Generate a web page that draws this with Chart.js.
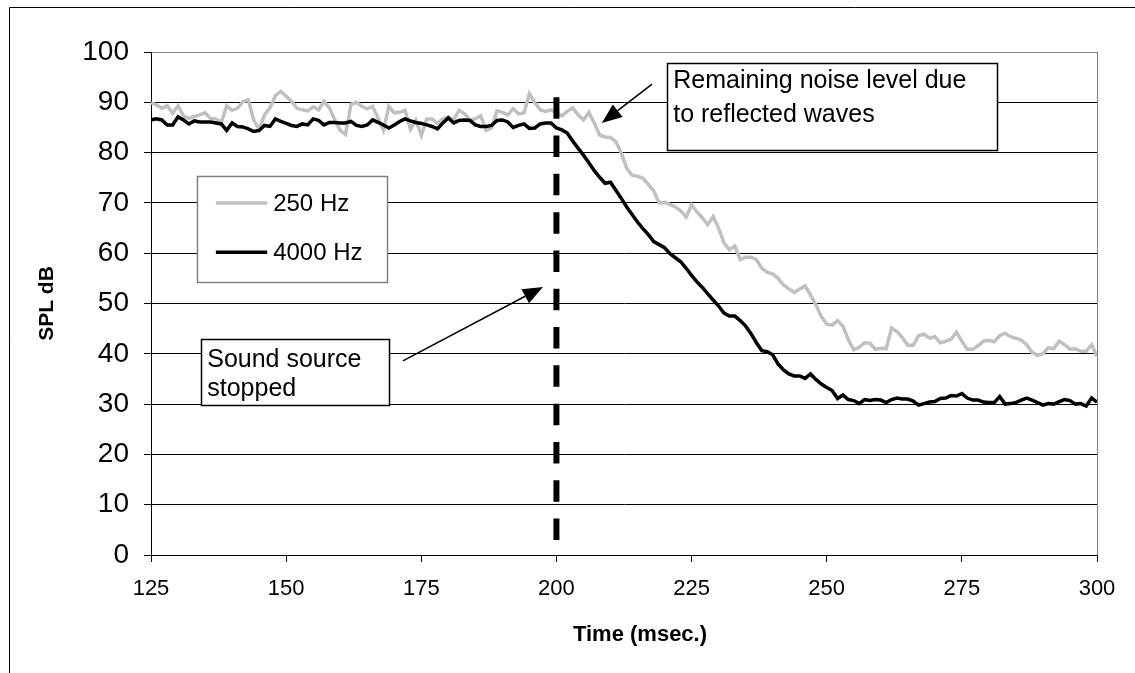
<!DOCTYPE html>
<html>
<head>
<meta charset="utf-8">
<script src="https://cdn.jsdelivr.net/npm/chart.js@4/dist/chart.umd.min.js"></script>
<style>
  html, body { margin: 0; padding: 0; background: #fff; }
  #wrap { width: 1135px; height: 673px; }
</style>
</head>
<body>
<div id="wrap"><canvas id="chart" width="1135" height="673"></canvas></div>
<script>
// samples every 1 ms, first one at 125 ms
const startMs = 125;

// 250 Hz, dB
const spl250 = [
  89.9, 89.5, 88.8, 89.3, 87.8, 89.3, 87.3, 86.8, 87.2, 87.5,
  87.9, 86.8, 86.7, 86.0, 89.3, 88.4, 88.8, 90.1, 90.5, 86.5,
  84.6, 87.5, 88.9, 91.3, 92.2, 91.2, 90.2, 88.8, 88.5, 88.3,
  89.1, 88.5, 90.2, 88.9, 86.5, 84.4, 83.6, 89.6, 90.0, 89.2,
  88.7, 89.2, 86.9, 84.4, 89.2, 87.9, 88.0, 88.4, 84.6, 86.5,
  83.4, 86.7, 86.7, 85.8, 86.7, 87.1, 86.5, 88.4, 87.7, 86.5,
  86.7, 87.3, 84.4, 84.9, 88.3, 88.0, 87.5, 88.7, 87.7, 87.9,
  91.7, 89.9, 88.5, 88.2, 88.5, 87.9, 87.3, 88.2, 88.9, 87.5,
  86.5, 88.0, 85.9, 83.5, 83.1, 83.0, 82.2, 79.9, 76.9, 75.5,
  75.3, 74.9, 73.7, 72.4, 70.0, 70.1, 69.7, 69.2, 68.4, 67.2,
  69.6, 68.2, 67.0, 65.7, 67.3, 65.0, 62.0, 60.7, 61.4, 58.7,
  59.2, 59.2, 58.7, 57.0, 56.2, 55.9, 55.0, 53.7, 52.9, 52.2,
  52.9, 53.5, 51.7, 49.7, 47.4, 45.9, 45.7, 46.6, 45.5, 42.8,
  40.8, 41.3, 42.2, 42.1, 40.9, 41.1, 41.0, 45.1, 44.4, 43.2,
  41.7, 41.7, 43.6, 43.9, 43.1, 43.4, 42.2, 42.5, 42.9, 44.3,
  42.5, 40.9, 40.9, 41.6, 42.5, 42.7, 42.4, 43.6, 44.1, 43.4,
  43.1, 42.7, 41.8, 40.3, 39.7, 40.0, 41.2, 41.0, 42.5, 41.8,
  40.9, 41.0, 40.5, 40.5, 41.8, 39.5
];

// 4000 Hz, dB
const spl4000 = [
  86.5, 86.7, 86.5, 85.5, 85.5, 87.1, 86.5, 85.7, 86.3, 86.1,
  86.1, 86.1, 85.9, 85.7, 84.4, 85.9, 85.2, 85.1, 84.7, 84.2,
  84.4, 85.4, 85.2, 86.7, 86.2, 85.8, 85.4, 85.2, 85.7, 85.5,
  86.7, 86.4, 85.5, 86.0, 86.0, 85.9, 85.9, 86.2, 85.4, 85.2,
  85.5, 86.5, 86.0, 85.5, 84.9, 85.5, 86.2, 86.7, 86.3, 86.0,
  85.8, 85.5, 85.2, 84.7, 85.9, 86.9, 85.9, 86.4, 86.5, 86.4,
  85.5, 85.2, 85.2, 85.4, 86.4, 86.5, 86.1, 85.0, 85.4, 85.7,
  84.8, 84.9, 85.7, 85.9, 85.9, 84.9, 84.5, 83.9, 82.3, 80.9,
  79.5, 78.0, 76.4, 75.1, 73.9, 74.1, 72.5, 70.9, 69.2, 67.7,
  66.2, 64.9, 63.7, 62.3, 61.7, 61.1, 59.9, 59.1, 58.3, 57.0,
  55.6, 54.3, 53.2, 51.9, 50.7, 49.5, 48.1, 47.5, 47.5, 46.6,
  45.5, 44.0, 42.2, 40.6, 40.4, 39.8, 38.0, 36.8, 36.0, 35.6,
  35.6, 35.1, 36.0, 34.9, 34.0, 33.3, 32.7, 31.1, 31.8, 30.9,
  30.7, 30.1, 30.9, 30.7, 30.9, 30.8, 30.3, 30.9, 31.2, 31.0,
  31.0, 30.6, 29.8, 30.1, 30.4, 30.5, 31.1, 31.2, 31.7, 31.6,
  32.1, 31.2, 30.8, 30.8, 30.4, 30.3, 30.3, 31.5, 30.0, 30.1,
  30.3, 30.8, 31.2, 30.8, 30.3, 29.8, 30.1, 30.0, 30.5, 30.9,
  30.7, 30.0, 30.1, 29.6, 31.2, 30.4
];

const xTicks = [125, 150, 175, 200, 225, 250, 275, 300];
const yTicks = [0, 10, 20, 30, 40, 50, 60, 70, 80, 90, 100];
const seriesNames = ['250 Hz', '4000 Hz'];
const xTitle = 'Time (msec.)';

// moment the source was switched off, and how high the marker goes
const stopMs = 200;
const stopTop = 91;

const FONT = 'Arial, "Liberation Sans", sans-serif';

function toPoints(arr) {
  return arr.map((v, i) => ({ x: startMs + i, y: v }));
}

// text boxes / arrows, placed in data units
const noteBoxes = [
  { x0: 220.45, x1: 281.5, y0: 97.8, y1: 80.5, tx: 221.6,
    lines: [['Remaining noise level due', 92.8], ['to reflected waves', 86.1]] },
  { x0: 134.2, x1: 169.0, y0: 42.9, y1: 29.8, tx: 135.4,
    lines: [['Sound source', 37.4], ['stopped', 31.6]] }
];
const noteArrows = [
  { from: [217.7, 93.6], to: [208.4, 85.9] },
  { from: [171.6, 38.6], to: [197.5, 53.3] }
];
const legendBox = { x0: 133.5, x1: 168.7, y0: 75.3, y1: 54.3, lx0: 137.0, lx1: 146.5, tx: 147.6, rows: [70.0, 60.2] };

const extras = {
  id: 'extras',
  afterDraw(chart) {
    const { ctx, chartArea, scales: { x, y } } = chart;
    const px = v => x.getPixelForValue(v);
    const py = v => y.getPixelForValue(v);
    ctx.save();

    // plot area right border (grey)
    ctx.strokeStyle = '#808080';
    ctx.lineWidth = 1;
    ctx.beginPath();
    ctx.moveTo(Math.round(chartArea.right) + 0.5, chartArea.top);
    ctx.lineTo(Math.round(chartArea.right) + 0.5, chartArea.bottom);
    ctx.stroke();

    // outer frame
    ctx.strokeStyle = '#000';
    ctx.beginPath();
    ctx.moveTo(9.5, 700);
    ctx.lineTo(9.5, 7.5);
    ctx.lineTo(1200, 7.5);
    ctx.stroke();

    // x axis title, sits a bit right of the plot centre like the original
    ctx.fillStyle = '#000';
    ctx.font = 'bold 22px ' + FONT;
    ctx.textAlign = 'center';
    ctx.textBaseline = 'middle';
    ctx.fillText(xTitle, (chartArea.left + chartArea.right) / 2 + 16, 635);

    // arrows
    noteArrows.forEach(a => {
      const x0 = px(a.from[0]), y0 = py(a.from[1]);
      const x1 = px(a.to[0]), y1 = py(a.to[1]);
      const ang = Math.atan2(y1 - y0, x1 - x0);
      const hl = 20, hw = 8;
      const bx = x1 - hl * Math.cos(ang), by = y1 - hl * Math.sin(ang);
      ctx.strokeStyle = '#000';
      ctx.lineWidth = 1.5;
      ctx.beginPath();
      ctx.moveTo(x0, y0);
      ctx.lineTo(bx, by);
      ctx.stroke();
      ctx.fillStyle = '#000';
      ctx.beginPath();
      ctx.moveTo(x1, y1);
      ctx.lineTo(bx + hw * Math.sin(ang), by - hw * Math.cos(ang));
      ctx.lineTo(bx - hw * Math.sin(ang), by + hw * Math.cos(ang));
      ctx.closePath();
      ctx.fill();
    });

    // text boxes
    ctx.font = '25px ' + FONT;
    ctx.textBaseline = 'alphabetic';
    ctx.textAlign = 'left';
    noteBoxes.forEach(b => {
      const l = Math.round(px(b.x0)) + 0.5, t = Math.round(py(b.y0)) + 0.5;
      const w = Math.round(px(b.x1) - px(b.x0)), h = Math.round(py(b.y1) - py(b.y0));
      ctx.fillStyle = '#fff';
      ctx.fillRect(l, t, w, h);
      ctx.strokeStyle = '#000';
      ctx.lineWidth = 1.5;
      ctx.strokeRect(l, t, w, h);
      ctx.fillStyle = '#000';
      b.lines.forEach(([txt, yy]) => ctx.fillText(txt, px(b.tx), py(yy)));
    });

    // legend box
    const L = legendBox;
    const ll = Math.round(px(L.x0)) + 0.5, lt = Math.round(py(L.y0)) + 0.5;
    const lw = Math.round(px(L.x1) - px(L.x0)), lh = Math.round(py(L.y1) - py(L.y0));
    ctx.fillStyle = '#fff';
    ctx.fillRect(ll, lt, lw, lh);
    ctx.strokeStyle = '#808080';
    ctx.lineWidth = 1.5;
    ctx.strokeRect(ll, lt, lw, lh);
    ctx.textBaseline = 'middle';
    ctx.font = '24px ' + FONT;
    chart.data.datasets.slice(0, 2).forEach((ds, i) => {
      const yy = py(L.rows[i]);
      ctx.strokeStyle = ds.borderColor;
      ctx.lineWidth = ds.borderWidth;
      ctx.beginPath();
      ctx.moveTo(px(L.lx0), yy);
      ctx.lineTo(px(L.lx1), yy);
      ctx.stroke();
      ctx.fillStyle = '#000';
      ctx.fillText(ds.label, px(L.tx), yy + 1);
    });

    ctx.restore();
  }
};

new Chart(document.getElementById('chart'), {
  type: 'line',
  data: {
    datasets: [
      {
        label: seriesNames[0],
        data: toPoints(spl250),
        borderColor: '#c0c0c0',
        borderWidth: 3.5,
        pointRadius: 0,
        tension: 0,
        order: 2
      },
      {
        label: seriesNames[1],
        data: toPoints(spl4000),
        borderColor: '#000000',
        borderWidth: 3.5,
        pointRadius: 0,
        tension: 0,
        order: 1
      },
      {
        label: 'stop',
        data: [{ x: stopMs, y: stopTop }, { x: stopMs, y: 0 }],
        borderColor: '#000000',
        borderWidth: 6,
        borderDash: [21.5, 16.8],
        borderCapStyle: 'butt',
        pointRadius: 0,
        order: 0
      }
    ]
  },
  options: {
    responsive: false,
    animation: false,
    layout: { padding: { left: 0, right: 38, top: 52, bottom: 0 } },
    plugins: {
      legend: { display: false },
      tooltip: { enabled: false }
    },
    scales: {
      x: {
        type: 'linear',
        min: 125,
        max: 300,
        afterBuildTicks: s => { s.ticks = xTicks.map(v => ({ value: v })); },
        afterFit: s => { s.height = 118; },
        grid: { drawOnChartArea: false, drawTicks: true, tickLength: 7, color: '#000' },
        border: { color: '#000', width: 1 },
        ticks: { color: '#000', font: { family: FONT, size: 22 }, padding: 14, maxRotation: 0 },
        title: { display: false }
      },
      y: {
        min: 0,
        max: 100,
        afterBuildTicks: s => { s.ticks = yTicks.map(v => ({ value: v })); },
        afterFit: s => { s.width = 151; },
        grid: {
          color: c => (c.tick && c.tick.value === 100 ? '#808080' : '#000'),
          tickColor: '#000',
          lineWidth: 1,
          tickLength: 7
        },
        border: { color: '#000', width: 1 },
        ticks: { color: '#000', font: { family: FONT, size: 28 }, padding: 15 },
        title: {
          display: true,
          text: 'SPL dB',
          color: '#000',
          font: { family: FONT, size: 21, weight: 'bold' },
          padding: { top: 35, bottom: 0 }
        }
      }
    }
  },
  plugins: [extras]
});
</script>
</body>
</html>
